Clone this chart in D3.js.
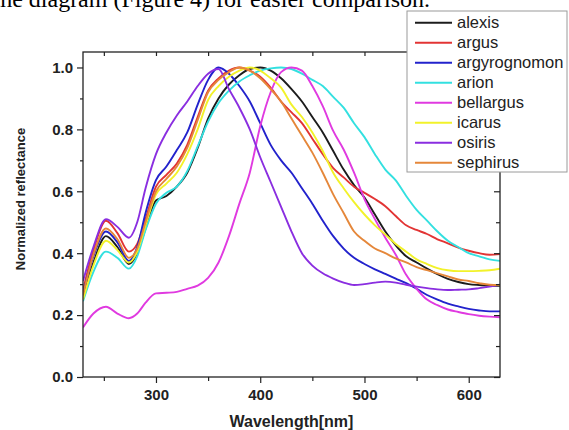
<!DOCTYPE html>
<html>
<head>
<meta charset="utf-8">
<title>Normalized reflectance</title>
<style>
  body { margin: 0; background: #fff; }
  svg { display: block; font-family: "Liberation Sans", Arial, sans-serif; }
</style>
</head>
<body>
<svg width="569" height="430"></svg>
<script src="https://d3js.org/d3.v7.min.js"></script>
<script>
  // wavelengths (nm) shared by every series
  var wavelengths = [230, 240, 252, 263, 274, 282, 290, 300, 310, 320, 330, 340, 350, 360, 370, 380, 390, 400, 410, 420,
    430, 440, 450, 460, 470, 480, 490, 500, 510, 520, 530, 540, 550, 560, 570, 580, 590, 600, 610, 620, 630];

  var alexis = [0.26, 0.37, 0.455, 0.42, 0.365, 0.40, 0.48, 0.57, 0.585, 0.615, 0.66, 0.74, 0.835, 0.9, 0.945, 0.975, 0.995, 1.0, 0.99, 0.965,
    0.93, 0.89, 0.84, 0.79, 0.73, 0.67, 0.62, 0.58, 0.525, 0.47, 0.425, 0.39, 0.37, 0.35, 0.332, 0.317, 0.307, 0.30, 0.297, 0.295, 0.295];
  var argus = [0.28, 0.41, 0.505, 0.465, 0.405, 0.43, 0.51, 0.615, 0.653, 0.69, 0.75, 0.84, 0.925, 0.965, 0.99, 1.0, 0.99, 0.97, 0.935, 0.89,
    0.855, 0.82, 0.77, 0.72, 0.675, 0.645, 0.615, 0.595, 0.575, 0.552, 0.52, 0.49, 0.475, 0.462, 0.445, 0.432, 0.418, 0.408, 0.40, 0.395, 0.397];
  var argyrognomon = [0.27, 0.39, 0.47, 0.435, 0.375, 0.42, 0.53, 0.636, 0.68, 0.733, 0.79, 0.88, 0.96, 1.0, 0.98, 0.94, 0.89, 0.82, 0.75, 0.70,
    0.66, 0.61, 0.56, 0.505, 0.455, 0.415, 0.385, 0.365, 0.348, 0.333, 0.318, 0.303, 0.285, 0.265, 0.25, 0.237, 0.228, 0.22, 0.215, 0.212, 0.212];
  var arion = [0.245, 0.34, 0.405, 0.385, 0.35, 0.39, 0.475, 0.56, 0.595, 0.615, 0.665, 0.745, 0.825, 0.885, 0.925, 0.955, 0.975, 0.99, 0.997, 1.0,
    0.995, 0.98, 0.96, 0.94, 0.905, 0.87, 0.82, 0.775, 0.72, 0.67, 0.635, 0.585, 0.54, 0.505, 0.47, 0.44, 0.42, 0.40, 0.39, 0.38, 0.375];
  var bellargus = [0.16, 0.205, 0.227, 0.205, 0.19, 0.205, 0.24, 0.27, 0.272, 0.275, 0.285, 0.295, 0.32, 0.37, 0.455, 0.56, 0.66, 0.81, 0.92, 0.985,
    1.0, 0.99, 0.94, 0.875, 0.795, 0.735, 0.66, 0.575, 0.51, 0.45, 0.395, 0.33, 0.285, 0.25, 0.232, 0.218, 0.21, 0.203, 0.198, 0.195, 0.193];
  var icarus = [0.25, 0.36, 0.44, 0.41, 0.37, 0.405, 0.49, 0.59, 0.625, 0.66, 0.72, 0.80, 0.895, 0.94, 0.97, 0.99, 1.0, 0.99, 0.965, 0.935,
    0.88, 0.84, 0.79, 0.73, 0.66, 0.61, 0.565, 0.525, 0.49, 0.46, 0.43, 0.405, 0.38, 0.365, 0.352, 0.345, 0.342, 0.342, 0.343, 0.345, 0.35];
  var osiris = [0.31, 0.42, 0.51, 0.485, 0.45, 0.50, 0.61, 0.72, 0.79, 0.845, 0.89, 0.94, 0.98, 0.995, 0.93, 0.87, 0.80, 0.71, 0.63, 0.55,
    0.47, 0.40, 0.36, 0.335, 0.318, 0.305, 0.297, 0.30, 0.305, 0.308, 0.305, 0.298, 0.292, 0.287, 0.283, 0.281, 0.282, 0.283, 0.287, 0.292, 0.298];
  var sephirus = [0.265, 0.395, 0.48, 0.445, 0.385, 0.415, 0.50, 0.60, 0.64, 0.68, 0.74, 0.83, 0.92, 0.96, 0.985, 1.0, 0.99, 0.965, 0.93, 0.89,
    0.835, 0.78, 0.725, 0.66, 0.59, 0.53, 0.47, 0.44, 0.415, 0.40, 0.383, 0.37, 0.355, 0.345, 0.335, 0.325, 0.315, 0.31, 0.303, 0.298, 0.297];

  var names = ["alexis", "argus", "argyrognomon", "arion", "bellargus", "icarus", "osiris", "sephirus"];
  var values = [alexis, argus, argyrognomon, arion, bellargus, icarus, osiris, sephirus];
  var colors = ["#1c1c1c", "#e23434", "#2222cc", "#33e0e0", "#e03ae0", "#f2f22a", "#8a2ee0", "#e5873a"];

  var yMajor = [0, 0.2, 0.4, 0.6, 0.8, 1.0];
  var yMinor = [0.1, 0.3, 0.5, 0.7, 0.9];
  var xMajor = [300, 400, 500, 600];
  var xMinor = [250, 350, 450, 550];

  var svg = d3.select("svg");
  var plot = { left: 83, right: 500, top: 52, bottom: 377 };

  var x = d3.scaleLinear().domain([230, 630]).range([plot.left, plot.right]);
  var y = d3.scaleLinear().domain([0, 1.05]).range([plot.bottom, plot.top]);

  // cut-off sentence of the surrounding page
  svg.append("text")
    .attr("x", 430).attr("y", 7)
    .attr("text-anchor", "end")
    .style("font-family", "'Liberation Serif', 'Times New Roman', serif")
    .style("font-size", "24px")
    .text("the diagram (Figure 4) for easier comparison.");

  svg.append("clipPath").attr("id", "plotclip")
    .append("rect").attr("x", plot.left).attr("y", plot.top)
    .attr("width", plot.right - plot.left).attr("height", plot.bottom - plot.top);

  var line = d3.line()
    .x(function (d) { return x(d[0]); })
    .y(function (d) { return y(d[1]); })
    .curve(d3.curveMonotoneX);

  svg.append("g").attr("clip-path", "url(#plotclip)")
    .selectAll("path")
    .data(values)
    .enter().append("path")
    .attr("fill", "none")
    .attr("stroke", function (d, i) { return colors[i]; })
    .attr("stroke-width", 1.9)
    .attr("d", function (d) { return line(wavelengths.map(function (w, j) { return [w, d[j]]; })); });

  // axes
  function styleAxis(g) {
    g.select(".domain").remove();
    g.selectAll("line").attr("stroke", "#222").attr("stroke-width", 1.2);
    g.selectAll("text").attr("fill", "#222").style("font-size", "15px").style("font-weight", "bold");
  }

  svg.append("g").attr("transform", "translate(" + plot.left + ",0)")
    .call(d3.axisLeft(y).tickValues(yMajor).tickFormat(d3.format(".1f")).tickSize(6).tickPadding(4))
    .call(styleAxis);
  svg.append("g").attr("transform", "translate(" + plot.left + ",0)")
    .call(d3.axisLeft(y).tickValues(yMinor).tickFormat("").tickSize(3))
    .call(styleAxis);
  svg.append("g").attr("transform", "translate(0," + plot.bottom + ")")
    .call(d3.axisBottom(x).tickValues(xMajor).tickFormat(d3.format("d")).tickSize(6).tickPadding(6))
    .call(styleAxis);
  svg.append("g").attr("transform", "translate(0," + plot.bottom + ")")
    .call(d3.axisBottom(x).tickValues(xMinor).tickFormat("").tickSize(4))
    .call(styleAxis);
  // mirrored inward ticks on top and right
  svg.append("g").attr("transform", "translate(0," + plot.top + ")")
    .call(d3.axisTop(x).tickValues(xMajor.concat(xMinor)).tickFormat("").tickSize(-4))
    .call(styleAxis);
  svg.append("g").attr("transform", "translate(" + plot.right + ",0)")
    .call(d3.axisRight(y).tickValues(yMajor).tickFormat("").tickSize(-6))
    .call(styleAxis);
  svg.append("g").attr("transform", "translate(" + plot.right + ",0)")
    .call(d3.axisRight(y).tickValues(yMinor).tickFormat("").tickSize(-4))
    .call(styleAxis);

  svg.append("rect")
    .attr("x", plot.left).attr("y", plot.top)
    .attr("width", plot.right - plot.left).attr("height", plot.bottom - plot.top)
    .attr("fill", "none").attr("stroke", "#222").attr("stroke-width", 1.3);

  svg.append("text")
    .attr("x", (plot.left + plot.right) / 2).attr("y", 426.5)
    .attr("text-anchor", "middle")
    .style("font-size", "16px").style("font-weight", "bold").attr("fill", "#222")
    .text("Wavelength[nm]");

  svg.append("text")
    .attr("transform", "translate(25,199) rotate(-90)")
    .attr("text-anchor", "middle")
    .style("font-size", "13px").style("font-weight", "bold").attr("fill", "#222")
    .text("Normalized reflectance");

  // legend
  var legend = svg.append("g").attr("transform", "translate(407,11)");
  legend.append("rect")
    .attr("width", 160).attr("height", 161)
    .attr("fill", "#fff").attr("stroke", "#9a9a9a").attr("stroke-width", 1);

  var item = legend.selectAll("g.item")
    .data(names)
    .enter().append("g").attr("class", "item")
    .attr("transform", function (d, i) { return "translate(0," + (11.7 + i * 20) + ")"; });
  item.append("line")
    .attr("x1", 8).attr("x2", 45)
    .attr("stroke", function (d, i) { return colors[i]; })
    .attr("stroke-width", 1.9);
  item.append("text")
    .attr("x", 50).attr("dy", "0.35em")
    .style("font-size", "16.5px").attr("fill", "#222")
    .text(function (d) { return d; });
</script>
</body>
</html>
